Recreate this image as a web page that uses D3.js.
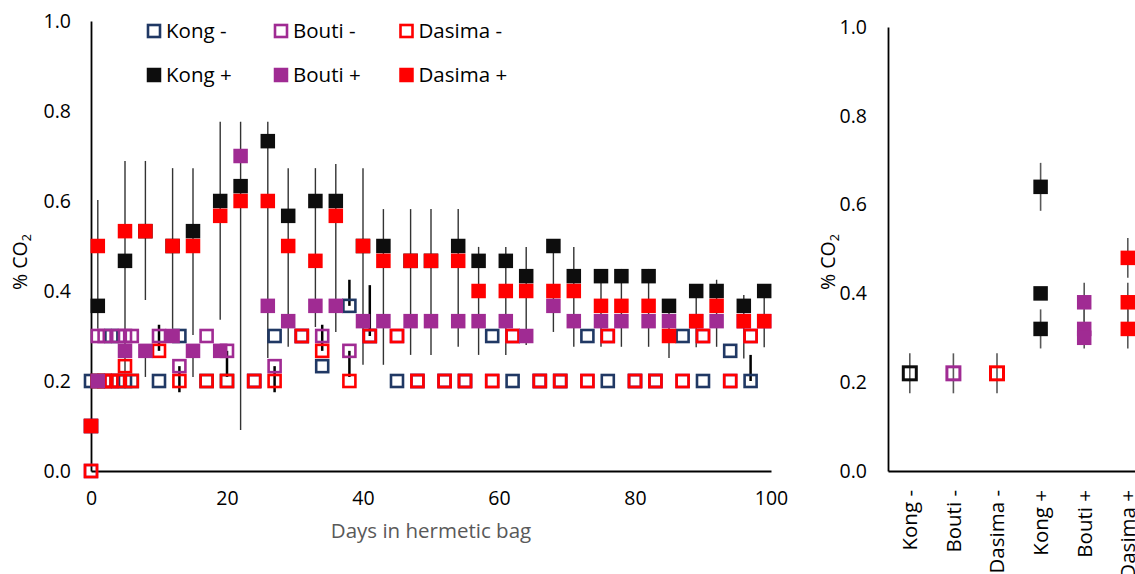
<!DOCTYPE html>
<html>
<head>
<meta charset="utf-8">
<script src="https://cdn.jsdelivr.net/npm/d3@7"></script>
<style>
  body { margin: 0; background: #fff; }
  svg { display: block; font-family: "Open Sans", Lato, sans-serif; }
</style>
</head>
<body>
<svg id="chart" width="1135" height="574"></svg>
<script>
// ---- Time course: sampling days ----
const openDays   = [0,1,2,3,4,5,6,10,13,17,20,24,27,31,34,38,41,45,48,52,55,59,62,66,69,73,76,80,83,87,90,94,97];
const filledDays = [0,1,5,8,12,15,19,22,26,29,33,36,40,43,47,50,54,57,61,64,68,71,75,78,82,85,89,92,96,99];

// ---- "-" treatments (open markers), % CO2 ----
const kongMinus   = [0.2,0.2,0.2,0.3,0.2,0.2,0.2,0.2,0.3,0.2,0.2,0.2,0.3,0.3,0.233,0.367,0.3,0.2,0.2,0.2,0.2,0.3,0.2,0.2,0.2,0.3,0.2,0.2,0.2,0.3,0.2,0.267,0.2];
const boutiMinus  = [0,0.3,0.3,0.2,0.3,0.3,0.3,0.3,0.233,0.3,0.267,0.2,0.233,0.3,0.3,0.267,0.3,0.3,0.2,0.2,0.2,0.2,0.3,0.2,0.2,0.2,0.3,0.2,0.2,0.2,0.3,0.2,0.3];
const dasimaMinus = [0,0.2,0.2,0.2,0.2,0.233,0.2,0.267,0.2,0.2,0.2,0.2,0.2,0.3,0.267,0.2,0.3,0.3,0.2,0.2,0.2,0.2,0.3,0.2,0.2,0.2,0.3,0.2,0.2,0.2,0.3,0.2,0.3];

const kongMinusErrUp     = [0,0,0,0,0,0,0,0,0,0,0,0,0,0,0,0.058,0,0,0,0,0,0,0,0,0,0,0,0,0,0,0,0,0.058];
const kongMinusErrDown   = [0,0,0,0,0,0,0,0,0,0,0,0,0,0,0,0,0,0,0,0,0,0,0,0,0,0,0,0,0,0,0,0,0];
const boutiMinusErrUp    = [0,0,0,0,0,0,0,0,0,0,0,0,0,0,0,0,0,0,0,0,0,0,0,0,0,0,0,0,0,0,0,0,0];
const boutiMinusErrDown  = [0,0,0,0,0,0,0,0,0.058,0,0.058,0,0.058,0,0,0.058,0,0,0,0,0,0,0,0,0,0,0,0,0,0,0,0,0];
const dasimaMinusErrUp   = [0,0,0,0,0,0,0,0.058,0,0,0,0,0,0,0.058,0,0.113,0,0,0,0,0,0,0,0,0,0,0,0,0,0,0,0];
const dasimaMinusErrDown = [0,0,0,0,0,0,0,0,0,0,0,0,0,0,0,0,0,0,0,0,0,0,0,0,0,0,0,0,0,0,0,0,0];

// ---- "+" treatments (filled markers), % CO2 ----
const kongPlus   = [0.1,0.367,0.467,0.533,0.5,0.533,0.6,0.633,0.733,0.567,0.6,0.6,0.5,0.5,0.467,0.467,0.5,0.467,0.467,0.433,0.5,0.433,0.433,0.433,0.433,0.367,0.4,0.4,0.367,0.4];
const boutiPlus  = [0.1,0.2,0.267,0.267,0.3,0.267,0.267,0.7,0.367,0.333,0.367,0.367,0.333,0.333,0.333,0.333,0.333,0.333,0.333,0.3,0.367,0.333,0.333,0.333,0.333,0.333,0.333,0.333,0.333,0.333];
const dasimaPlus = [0.1,0.5,0.533,0.533,0.5,0.5,0.567,0.6,0.6,0.5,0.467,0.567,0.5,0.467,0.467,0.467,0.467,0.4,0.4,0.4,0.4,0.4,0.367,0.367,0.367,0.3,0.333,0.367,0.333,0.333];

const kongPlusErrUp     = [0,0,0,0,0,0,0,0,0,0,0,0,0,0,0,0,0,0,0,0,0,0,0,0,0,0,0,0,0,0];
const kongPlusErrDown   = [0,0,0,0,0,0,0,0,0,0,0,0,0,0,0,0,0,0,0,0,0,0,0,0,0,0,0,0,0,0];
const boutiPlusErrUp    = [0,0,0,0,0,0,0,0,0,0,0,0,0,0,0,0,0,0,0,0,0,0,0,0,0,0,0,0,0,0];
const boutiPlusErrDown  = [0,0,0,0.058,0,0.058,0,0,0,0,0,0,0,0,0,0,0,0,0,0,0,0,0,0,0,0,0,0,0,0];
const dasimaPlusErrUp   = [0,0.102,0.156,0.156,0.173,0.173,0.209,0.176,0.176,0.173,0.206,0.115,0.173,0.115,0.115,0.115,0.115,0.098,0.098,0.098,0.1,0.098,0.082,0.082,0.082,0.08,0.058,0.058,0.058,0.058];
const dasimaPlusErrDown = [0,0.184,0.313,0.153,0.184,0.198,0.231,0.509,0.349,0.224,0.147,0.258,0.264,0.231,0.209,0.209,0.191,0.142,0.142,0.12,0.091,0.124,0.091,0.091,0.091,0.049,0.058,0.091,0.083,0.058];

// ---- Whole-period summary by treatment ----
const treatments = ["Kong -", "Bouti -", "Dasima -", "Kong +", "Bouti +", "Dasima +"];
const summaryA    = [0.22, 0.22, 0.22, 0.64, 0.38, 0.48];
const summaryAErr = [0.045, 0.045, 0.045, 0.054, 0.044, 0.045];
const summaryB    = [null, null, null, 0.32, 0.32, 0.38];
const summaryBErr = [0, 0, 0, 0.044, 0.044, 0.044];
const summaryC    = [null, null, null, 0.40, 0.30, 0.32];
const summaryCErr = [0, 0, 0, 0, 0, 0.044];

const yTicks = [0, 0.2, 0.4, 0.6, 0.8, 1.0];
const xTicks = [0, 20, 40, 60, 80, 100];

const NAVY = "#203864", PURPLE = "#A02B93", RED = "#FF0000", BLACK = "#0D0D0D";

const series = [
  { name: "Kong -",   days: openDays,   v: kongMinus,   up: kongMinusErrUp,   dn: kongMinusErrDown,   color: NAVY,   open: true },
  { name: "Bouti -",  days: openDays,   v: boutiMinus,  up: boutiMinusErrUp,  dn: boutiMinusErrDown,  color: PURPLE, open: true },
  { name: "Dasima -", days: openDays,   v: dasimaMinus, up: dasimaMinusErrUp, dn: dasimaMinusErrDown, color: RED,    open: true },
  { name: "Kong +",   days: filledDays, v: kongPlus,    up: kongPlusErrUp,    dn: kongPlusErrDown,    color: BLACK,  open: false },
  { name: "Bouti +",  days: filledDays, v: boutiPlus,   up: boutiPlusErrUp,   dn: boutiPlusErrDown,   color: PURPLE, open: false },
  { name: "Dasima +", days: filledDays, v: dasimaPlus,  up: dasimaPlusErrUp,  dn: dasimaPlusErrDown,  color: RED,    open: false }
];

const svg = d3.select("#chart");
const FONT = "Open Sans";
const FS_TICK = 19.5;   // tick labels
const FS = 20.5;        // legend, titles, category labels

// Draws a square marker centred on (cx, cy)
function square(g, cx, cy, color, open, size) {
  const s = open ? size - 2.5 : size;
  g.append("rect")
    .attr("x", cx - s / 2).attr("y", cy - s / 2)
    .attr("width", s).attr("height", s)
    .attr("fill", open ? "none" : color)
    .attr("stroke", open ? color : "none")
    .attr("stroke-width", open ? 2.6 : 0);
}

// ================= Left panel: CO2 over time =================
const x = d3.scaleLinear().domain([0, 100]).range([91, 771]);
const y = d3.scaleLinear().domain([0, 1]).range([471, 21]);

const left = svg.append("g");

// axes
const yAxis = left.append("g").attr("transform", `translate(${x(0)},0)`)
  .call(d3.axisLeft(y).tickValues(yTicks).tickFormat(d3.format(".1f")).tickSize(0).tickPadding(20));
const xAxis = left.append("g").attr("transform", `translate(0,${y(0)})`)
  .call(d3.axisBottom(x).tickValues(xTicks).tickFormat(d3.format("d")).tickSize(0).tickPadding(20));
[yAxis, xAxis].forEach(a => {
  a.select(".domain").attr("stroke", "#000").attr("stroke-width", 1.8);
  a.selectAll("text").attr("font-size", FS_TICK).attr("font-family", FONT).attr("fill", "#000");
});

// error bars (beneath all markers)
const errG = left.append("g");
series.forEach(s => {
  s.v.forEach((v, i) => {
    if (s.up[i] > 0 || s.dn[i] > 0) {
      errG.append("line")
        .attr("x1", x(s.days[i])).attr("x2", x(s.days[i]))
        .attr("y1", y(v + s.up[i])).attr("y2", y(v - s.dn[i]))
        .attr("stroke", s.open ? "#000" : "#333")
        .attr("stroke-width", s.open ? 2.5 : 1.4);
    }
  });
});

// markers, in series order
series.forEach(s => {
  const g = left.append("g");
  s.v.forEach((v, i) => square(g, x(s.days[i]), y(v), s.color, s.open, 14.5));
});

// legend
const legendCols = [154, 281, 406.5];
series.forEach((s, k) => {
  const cx = legendCols[k % 3];
  const cy = k < 3 ? 31 : 75;
  const g = left.append("g");
  square(g, cx, cy, s.color, s.open, 14.5);
  g.append("text").attr("x", cx + 12).attr("y", cy).attr("dy", "0.36em")
    .attr("font-size", FS).attr("fill", "#000").text(s.name);
});

// axis titles
left.append("text").attr("x", (x(0) + x(100)) / 2).attr("y", 531).attr("dy", "0.36em")
  .attr("text-anchor", "middle").attr("font-size", FS).attr("fill", "#595959")
  .text("Days in hermetic bag");

function co2Title(g, cx, cy) {
  const t = g.append("text").attr("transform", `translate(${cx},${cy}) rotate(-90)`)
    .attr("text-anchor", "middle").attr("dy", "0.36em").attr("font-size", FS_TICK).attr("fill", "#000");
  t.append("tspan").text("% CO");
  t.append("tspan").attr("font-size", FS_TICK * 0.65).attr("dy", "0.3em").text("2");
}
co2Title(left, 20, 262);

// ================= Right panel: summary by treatment =================
const xb = d3.scaleBand().domain(treatments).range([888, 888 + 6 * 43.6]).padding(0);
const y2 = d3.scaleLinear().domain([0, 1]).range([471, 27]);
const right = svg.append("g");

const y2Axis = right.append("g").attr("transform", `translate(${xb.range()[0]},0)`)
  .call(d3.axisLeft(y2).tickValues(yTicks).tickFormat(d3.format(".1f")).tickSize(0).tickPadding(21));
const xbAxis = right.append("g").attr("transform", `translate(0,${y2(0)})`)
  .call(d3.axisBottom(xb).tickSize(0).tickPadding(19));
[y2Axis, xbAxis].forEach(a => {
  a.select(".domain").attr("stroke", "#000").attr("stroke-width", 1.8);
  a.selectAll("text").attr("font-size", FS_TICK).attr("font-family", FONT).attr("fill", "#000");
});
xbAxis.selectAll(".tick text")
  .attr("font-size", FS)
  .attr("text-anchor", "end").attr("dy", "0.36em").attr("y", 0)
  .attr("transform", "translate(0,19) rotate(-90)");

const catColors = [BLACK, PURPLE, RED, BLACK, PURPLE, RED];
const rows = [[summaryA, summaryAErr], [summaryB, summaryBErr], [summaryC, summaryCErr]];
const cxOf = c => xb(c) + xb.bandwidth() / 2;

rows.forEach(([vals, errs]) => {
  vals.forEach((v, i) => {
    if (v == null || errs[i] <= 0) return;
    right.append("line")
      .attr("x1", cxOf(treatments[i])).attr("x2", cxOf(treatments[i]))
      .attr("y1", y2(v + errs[i])).attr("y2", y2(v - errs[i]))
      .attr("stroke", "#595959").attr("stroke-width", 1.6);
  });
});
rows.forEach(([vals]) => {
  vals.forEach((v, i) => {
    if (v == null) return;
    const open = i < 3;
    const s = open ? 16 : 14.5;
    const c = cxOf(treatments[i]);
    if (open) {
      right.append("rect").attr("x", c - (s - 3) / 2).attr("y", y2(v) - (s - 3) / 2)
        .attr("width", s - 3).attr("height", s - 3)
        .attr("fill", "none").attr("stroke", catColors[i]).attr("stroke-width", 3);
    } else {
      right.append("rect").attr("x", c - s / 2).attr("y", y2(v) - s / 2)
        .attr("width", s).attr("height", s).attr("fill", catColors[i]);
    }
  });
});

co2Title(right, 828, 262);
</script>
</body>
</html>
